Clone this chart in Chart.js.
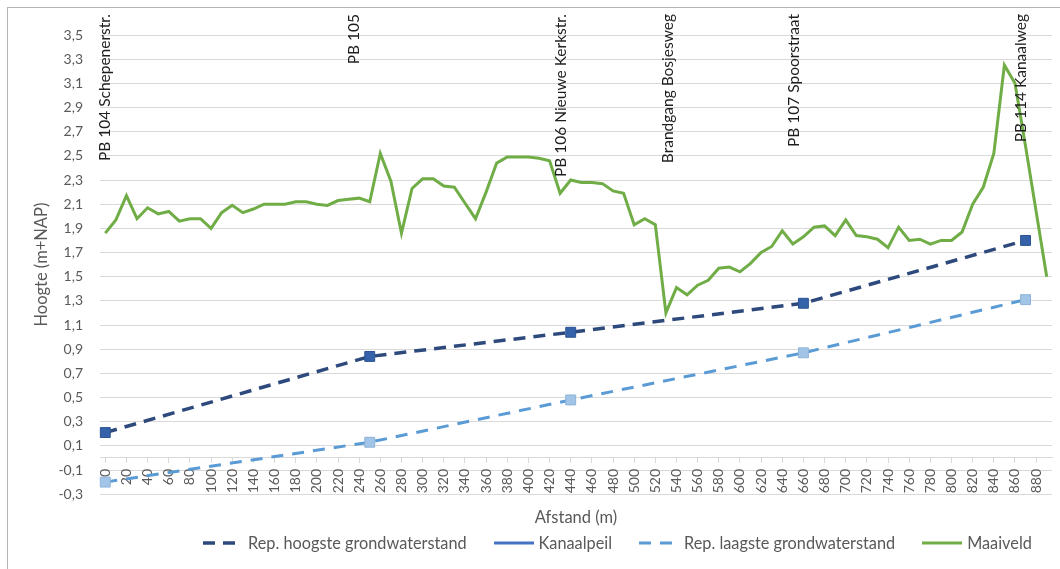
<!DOCTYPE html>
<html>
<head>
<meta charset="utf-8">
<script src="https://cdn.jsdelivr.net/npm/chart.js@4.4.0/dist/chart.umd.min.js"></script>
<style>
body{margin:0;background:#fff;font-family:Lato,sans-serif}
.wrap{position:relative;width:1060px;height:569px;overflow:hidden;background:#fff}
.frame{position:absolute;left:7px;top:7px;width:1100px;height:620px;border:1px solid #b4b4b4}
canvas{position:absolute;left:0;top:0}
.legend{position:absolute;left:203px;top:533px;display:flex;align-items:center;gap:27px;font-size:16.3px;color:#595959;line-height:20px;white-space:nowrap}
.legend-item{display:flex;align-items:center;gap:5px}
</style>
</head>
<body>
<div class="wrap">
  <div class="frame"></div>
  <canvas id="profileChart" width="1060" height="569"></canvas>
  <div class="legend" id="profileLegend"></div>
</div>
<script>
// afstand langs het tracé (m), één categorie per 10 m
const afstand=[0,10,20,30,40,50,60,70,80,90,100,110,120,130,140,150,160,170,180,190,
  200,210,220,230,240,250,260,270,280,290,300,310,320,330,340,350,360,370,380,390,
  400,410,420,430,440,450,460,470,480,490,500,510,520,530,540,550,560,570,580,590,
  600,610,620,630,640,650,660,670,680,690,700,710,720,730,740,750,760,770,780,790,
  800,810,820,830,840,850,860,870,880,890];
const maaiveld=[1.86,1.97,2.17,1.98,2.07,2.02,2.04,1.96,1.98,1.98,
  1.90,2.03,2.09,2.03,2.06,2.10,2.10,2.10,2.12,2.12,
  2.10,2.09,2.13,2.14,2.15,2.12,2.52,2.29,1.86,2.23,
  2.31,2.31,2.25,2.24,2.11,1.98,2.20,2.44,2.49,2.49,
  2.49,2.48,2.46,2.19,2.30,2.28,2.28,2.27,2.21,2.19,
  1.93,1.98,1.93,1.20,1.41,1.35,1.43,1.47,1.57,1.58,
  1.54,1.61,1.70,1.75,1.88,1.77,1.83,1.91,1.92,1.84,
  1.97,1.84,1.83,1.81,1.74,1.91,1.80,1.81,1.77,1.80,
  1.80,1.87,2.10,2.24,2.52,3.25,3.10,2.58,2.04,1.50];
const meetpunten=[0,250,440,660,870];
const hoogsteGws=[0.21,0.84,1.04,1.28,1.80];
const laagsteGws=[-0.20,0.13,0.48,0.87,1.31];
const kanaalpeil=[];
const yTicks=[-0.3,-0.1,0.1,0.3,0.5,0.7,0.9,1.1,1.3,1.5,1.7,1.9,2.1,2.3,2.5,2.7,2.9,3.1,3.3,3.5];
const xTickLabels=[0,20,40,60,80,100,120,140,160,180,200,220,240,260,280,300,320,340,360,380,
  400,420,440,460,480,500,520,540,560,580,600,620,640,660,680,700,720,740,760,780,
  800,820,840,860,880];
const locatieNamen=['PB 104 Schepenerstr.','PB 105','PB 106 Nieuwe Kerkstr.','Brandgang Bosjesweg','PB 107 Spoorstraat','PB 114 Kanaalweg'];
const locatieAfstand=[0,235,431,532,651,866];

Chart.defaults.font.family='Lato';

const locatieLabels={
  id:'locatieLabels',
  afterDatasetsDraw(chart){
    const {ctx,scales:{x}}=chart;
    ctx.save();
    ctx.font='15.5px Lato';
    ctx.fillStyle='#1e1e1e';
    ctx.textAlign='right';
    ctx.textBaseline='middle';
    locatieNamen.forEach((t,i)=>{
      const px=x.getPixelForValue(locatieAfstand[i]/10);
      ctx.save();
      ctx.translate(px,14);
      ctx.rotate(-Math.PI/2);
      ctx.fillText(t,0,0);
      ctx.restore();
    });
    ctx.restore();
  }
};

const datasets=[
  {label:'Rep. hoogste grondwaterstand',data:meetpunten.map((m,i)=>({x:m,y:hoogsteGws[i]})),
   borderColor:'#2E4A7D',borderWidth:3.5,borderDash:[12,8],pointStyle:'rect',pointRadius:7,
   pointBackgroundColor:'#3562A8',pointBorderColor:'#2C5494',pointBorderWidth:1,tension:0,fill:false},
  {label:'Kanaalpeil',data:kanaalpeil,borderColor:'#4472C4',borderWidth:3,pointRadius:0,fill:false},
  {label:'Rep. laagste grondwaterstand',data:meetpunten.map((m,i)=>({x:m,y:laagsteGws[i]})),
   borderColor:'#5B9BD5',borderWidth:3,borderDash:[12,9],pointStyle:'rect',pointRadius:7,
   pointBackgroundColor:'#A2C4E6',pointBorderColor:'#8DB3DA',pointBorderWidth:1,tension:0,fill:false},
  {label:'Maaiveld',data:maaiveld,borderColor:'#70AD47',borderWidth:3,pointRadius:0,tension:0,fill:false}
];

const chart=new Chart(document.getElementById('profileChart'),{
  type:'line',
  data:{labels:afstand,datasets},
  plugins:[locatieLabels],
  options:{
    responsive:false,animation:false,
    layout:{padding:{left:28,right:4,top:35,bottom:39}},
    plugins:{legend:{display:false},tooltip:{enabled:false}},
    scales:{
      x:{type:'category',position:{y:0},offset:true,
        grid:{display:true,drawOnChartArea:false,drawTicks:true,tickLength:5,color:'#d9d9d9'},
        border:{display:true,color:'#d9d9d9',width:1},
        ticks:{autoSkip:false,minRotation:90,maxRotation:90,padding:6,color:'#595959',font:{size:14},
          callback(v){const lab=this.getLabelForValue(v);return xTickLabels.includes(lab)?String(lab):null;}}},
      x2:{type:'category',position:'bottom',offset:true,
        grid:{display:false,drawTicks:false},border:{display:false},ticks:{display:false},
        title:{display:true,text:'Afstand (m)',color:'#595959',font:{size:16.5},padding:{top:14,bottom:2}}},
      y:{min:-0.3,max:3.5,
        afterBuildTicks:s=>{s.ticks=yTicks.map(v=>({value:v}));},
        afterFit:s=>{s.width=72;},
        grid:{color:'#d9d9d9',drawTicks:false},border:{display:false},
        ticks:{padding:17,color:'#595959',font:{size:14},callback:v=>v.toFixed(1).replace('.',',')},
        title:{display:true,text:'Hoogte (m+NAP)',color:'#595959',font:{size:16.5},padding:{top:4,bottom:4}}}
    }
  }
});

const leg=document.getElementById('profileLegend');
leg.innerHTML=chart.data.datasets.map(ds=>`<span class="legend-item"><svg width="40" height="10"><line x1="0" y1="5" x2="40" y2="5" stroke="${ds.borderColor}" stroke-width="${ds.borderWidth}" stroke-dasharray="${(ds.borderDash||[]).join(',')}"/></svg>${ds.label}</span>`).join('');
</script>
</body>
</html>
